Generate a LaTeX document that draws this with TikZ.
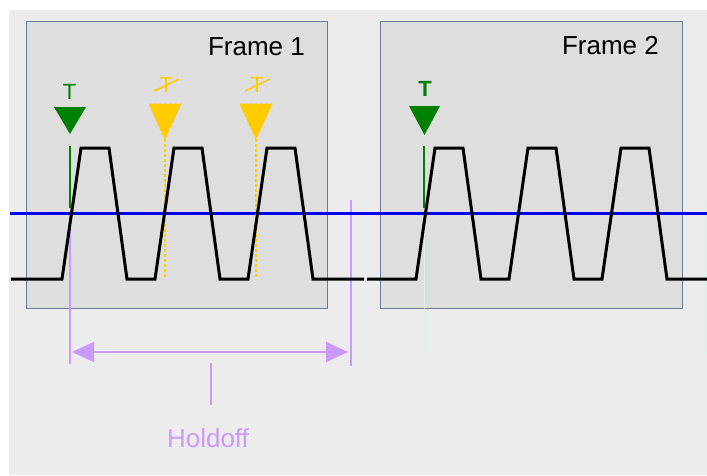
\documentclass[tikz,border=0pt]{standalone}
\usepackage{fontspec}
\setmainfont{Liberation Sans}
\usetikzlibrary{arrows.meta}
\definecolor{bggray}{RGB}{236,236,236}
\definecolor{framegray}{RGB}{222,222,222}
\definecolor{frameedge}{RGB}{110,122,145}
\definecolor{trigreen}{RGB}{0,128,0}
\definecolor{skipyellow}{RGB}{255,204,0}
\definecolor{holdpurple}{RGB}{204,153,255}
\definecolor{levelblue}{RGB}{0,0,235}
\definecolor{ghostcyan}{RGB}{218,242,232}

\begin{document}
\begin{tikzpicture}[x=1pt, y=-1pt,
    framebox/.style={draw=frameedge, fill=framegray, line width=0.8pt},
    signal/.style={black, line width=3pt},
    bigtext/.style={inner sep=0pt, font=\fontsize{26}{30}\selectfont},
    trigtext/.style={inner sep=0pt, anchor=base, font=\fontsize{22}{26}\selectfont},
    holdline/.style={holdpurple, line width=2pt}]
    \useasboundingbox (0,0) rectangle (707,475);

    % 背景
    \fill[bggray] (9,10) rectangle (707,475);

    % 两个帧
    \draw[framebox] (26,21) rectangle (327,308);
    \draw[framebox] (380,21) rectangle (682,308);
    \node[bigtext, anchor=base east] (lblFrameA) at (305,55) {Frame 1};
    \node[bigtext, anchor=base east] (lblFrameB) at (659,54) {Frame 2};

    % 淡色辅助线
    \draw[ghostcyan, line width=1pt] (424,213) -- (424,353);
    \draw[ghostcyan, line width=1pt] (706,200) -- (706,355);

    % Holdoff 区间
    \coordinate (holdL) at (70,213);
    \coordinate (holdR) at (351,200);
    \draw[holdline] (holdL) -- (70,364);
    \draw[holdline] (holdR) -- (351,366);
    \coordinate (arrL) at (72,352);
    \coordinate (arrR) at (348,352);
    \draw[holdline, {Triangle[length=22pt, width=20pt]}-{Triangle[length=22pt, width=20pt]}] (arrL) -- (arrR);
    \node[bigtext, anchor=base, text=holdpurple] (holdoff) at (208,447) {Holdoff};
    \coordinate (tickTop) at (211,363);
    \draw[holdline] (tickTop) -- (211,405);

    % 触发电平
    \draw[levelblue, line width=3pt] (10,213) -- (707,213);

    % 有效触发 T
    \node[trigtext, text=trigreen] (trigA) at (69.5,99) {T};
    \fill[trigreen] (54,107) -- (86,107) -- (70,134) -- cycle;
    \draw[trigreen, line width=2pt] (70,146) -- (70,208);
    \node[trigtext, text=trigreen, font=\fontsize{22}{26}\selectfont\bfseries] (trigB) at (425,96) {T};
    \fill[trigreen] (409,106) -- (440,106) -- (424.5,135) -- cycle;
    \draw[trigreen, line width=2pt] (424,146) -- (424,208);

    % 被忽略的触发
    \foreach \x/\nm in {165/skipA, 256/skipB}{
        \node[trigtext, text=skipyellow] (\nm) at (\x+1,92) {T};
        \draw[skipyellow, line width=1.5pt] ([xshift=-12pt, yshift=1pt]\nm.base) -- ([xshift=13pt, yshift=13pt]\nm.base);
        \filldraw[skipyellow, densely dashed, line width=1pt] (\x-16,104) -- (\x+16,104) -- (\x,139) -- cycle;
        \draw[skipyellow, densely dashed, line width=1.5pt] (\x,139) -- (\x,279);
    }

    % 信号
    \draw[signal] (11,279) foreach \s in {62,155,248}{
        -- (\s,279) -- ({\s+19},148) -- ({\s+47},148) -- ({\s+65},279)} -- (364,279);
    \draw[signal] (367,279) foreach \s in {416,509,602}{
        -- (\s,279) -- ({\s+19},148) -- ({\s+47},148) -- ({\s+65},279)} -- (707,279);
\end{tikzpicture}
\end{document}
